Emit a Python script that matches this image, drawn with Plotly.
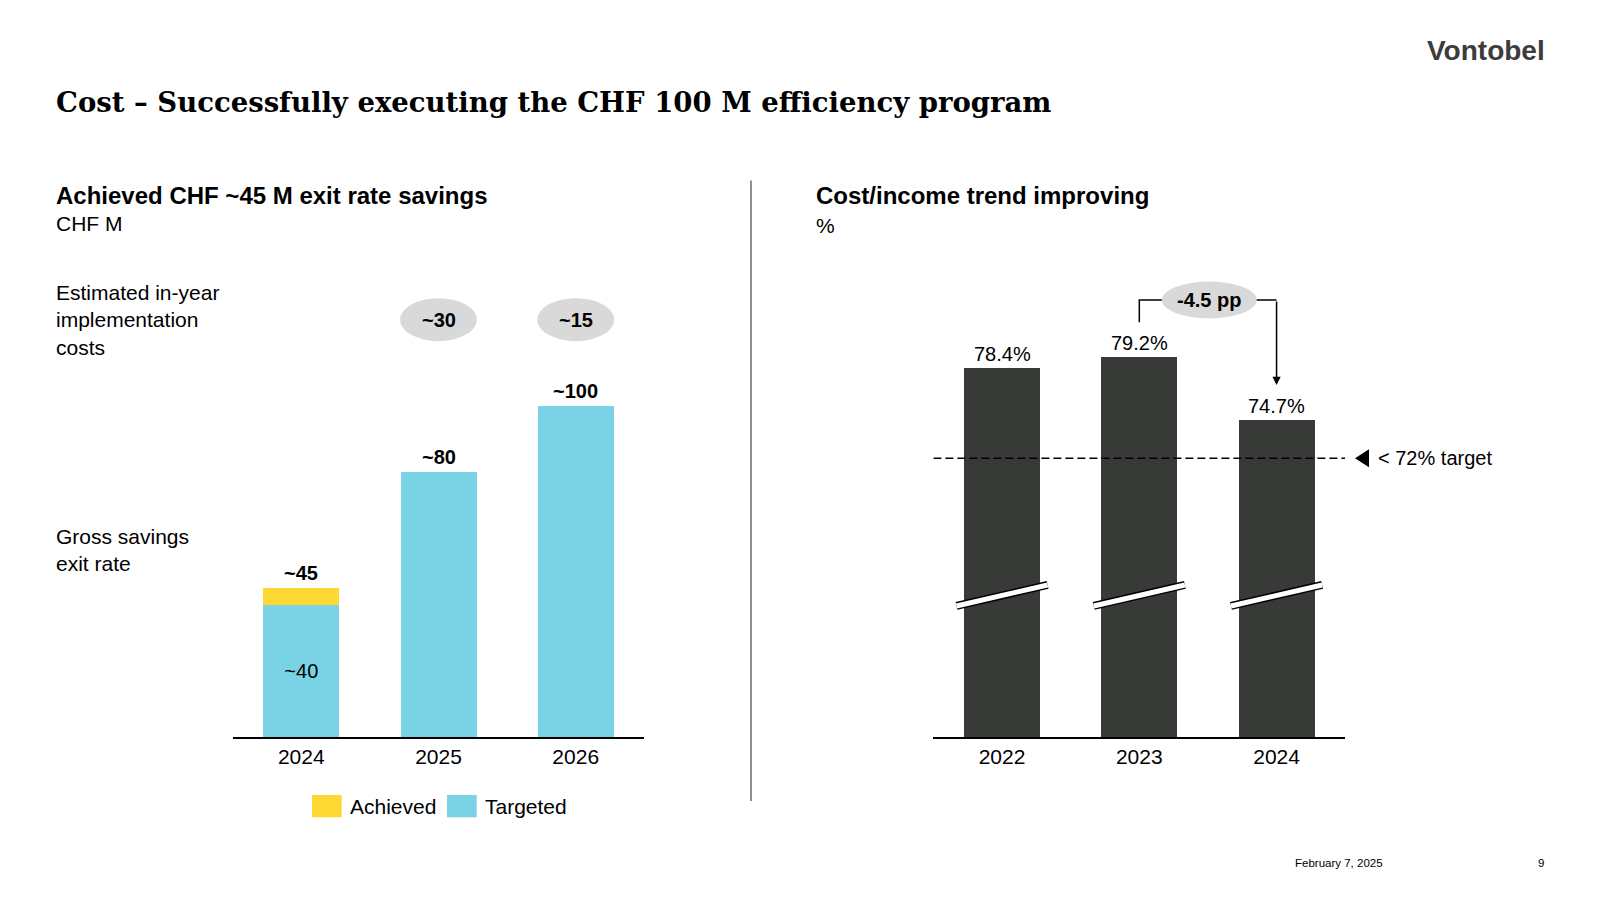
import plotly.graph_objects as go

# left panel - exit rate savings, CHF M
years_left = ["2024", "2025", "2026"]
targeted = [40, 80, 100]
achieved = [5, 0, 0]
total_labels = ["~45", "~80", "~100"]
inside_labels = ["~40", "", ""]
impl_costs = ["", "~30", "~15"]
series_names = ["Achieved", "Targeted"]

# right panel - cost/income ratio, %
years_right = ["2022", "2023", "2024"]
cost_income = [78.4, 79.2, 74.7]
target_ratio = 72
delta_label = "-4.5 pp"

CYAN = "#79D3E5"
YELLOW = "#FFD933"
DARK = "#383A37"
BUBBLE = "#D9D9D9"
SANS = "Arial, Liberation Sans, sans-serif"
W, H = 1600, 900


def px(x):
    return x / W


def py(y):
    return 1 - y / H


fig = go.Figure()

# stacked bars, targeted at the bottom, achieved on top
fig.add_trace(go.Bar(x=[0, 1, 2], y=targeted, width=0.554, marker=dict(color=CYAN, line=dict(width=0)),
                     text=inside_labels, textposition="inside", insidetextanchor="middle",
                     textfont=dict(family=SANS, size=20, color="black"), name=series_names[1],
                     xaxis="x", yaxis="y", showlegend=False))
fig.add_trace(go.Bar(x=[0, 1, 2], y=achieved, width=0.554, marker=dict(color=YELLOW, line=dict(width=0)),
                     name=series_names[0], xaxis="x", yaxis="y", showlegend=False))

fig.add_trace(go.Bar(x=[0, 1, 2], y=cost_income, width=0.554, marker=dict(color=DARK, line=dict(width=0)),
                     xaxis="x2", yaxis="y2", showlegend=False))

ax_common = dict(range=[-0.5, 2.5], tickvals=[0, 1, 2], showline=True, linecolor="black", linewidth=1.5,
                 ticks="", showgrid=False, zeroline=False, tickfont=dict(family=SANS, size=21, color="black"),
                 fixedrange=True)

fig.update_layout(
    width=W, height=H, margin=dict(l=0, r=0, t=0, b=0),
    paper_bgcolor="white", plot_bgcolor="white", barmode="stack",
    xaxis=dict(domain=[px(232.7), px(644.3)], ticktext=years_left, anchor="y", **ax_common),
    yaxis=dict(domain=[py(737), py(270)], range=[0, 141.1], visible=False, anchor="x"),
    xaxis2=dict(domain=[px(933.4), px(1345.2)], ticktext=years_right, anchor="y2", **ax_common),
    yaxis2=dict(domain=[py(737), py(270)], range=[52.19, 85.38], visible=False, anchor="x2"),
)

shapes = []
ann = []

# header
ann.append(dict(text="<b>Cost – Successfully executing the CHF 100 M efficiency program</b>",
                x=px(54), y=py(102), xref="paper", yref="paper", xanchor="left", yanchor="middle",
                showarrow=False, font=dict(family="DejaVu Serif, serif", size=27.5, color="black")))
ann.append(dict(text="<b>Vontobel</b>", x=px(1547), y=py(50), xref="paper", yref="paper",
                xanchor="right", yanchor="middle", showarrow=False,
                font=dict(family=SANS, size=28, color="#3c3c3c")))

# panel titles
ann.append(dict(text="<b>Achieved CHF ~45 M exit rate savings</b>", x=px(54), y=py(195), xref="paper", yref="paper",
                xanchor="left", yanchor="middle", showarrow=False, font=dict(family=SANS, size=24, color="black")))
ann.append(dict(text="CHF M", x=px(54), y=py(223), xref="paper", yref="paper",
                xanchor="left", yanchor="middle", showarrow=False, font=dict(family=SANS, size=21, color="black")))
ann.append(dict(text="<b>Cost/income trend improving</b>", x=px(814), y=py(195), xref="paper", yref="paper",
                xanchor="left", yanchor="middle", showarrow=False, font=dict(family=SANS, size=24, color="black")))
ann.append(dict(text="%", x=px(814), y=py(226), xref="paper", yref="paper",
                xanchor="left", yanchor="middle", showarrow=False, font=dict(family=SANS, size=21, color="black")))

# row labels left
ann.append(dict(text="Estimated in-year<br>implementation<br>costs", x=px(54), y=py(320), xref="paper", yref="paper",
                xanchor="left", yanchor="middle", align="left", showarrow=False,
                font=dict(family=SANS, size=21, color="black")))
ann.append(dict(text="Gross savings<br>exit rate", x=px(54), y=py(550), xref="paper", yref="paper",
                xanchor="left", yanchor="middle", align="left", showarrow=False,
                font=dict(family=SANS, size=21, color="black")))

# totals above left bars
for i, lab in enumerate(total_labels):
    ann.append(dict(text="<b>" + lab + "</b>", x=i, y=targeted[i] + achieved[i], xref="x", yref="y",
                    yshift=15, yanchor="middle", showarrow=False, font=dict(family=SANS, size=20, color="black")))

# implementation cost bubbles
for i, lab in enumerate(impl_costs):
    if not lab:
        continue
    shapes.append(dict(type="circle", xref="x", yref="y", x0=i - 0.28, x1=i + 0.28, y0=119.6, y1=132.6,
                       fillcolor=BUBBLE, line=dict(width=0)))
    ann.append(dict(text="<b>" + lab + "</b>", x=i, y=126.1, xref="x", yref="y", showarrow=False,
                    font=dict(family=SANS, size=20, color="black")))

# legend drawn by hand
leg = [(312, 341.7, YELLOW, 348, series_names[0]), (447, 476.7, CYAN, 483, series_names[1])]
for x0, x1, col, tx, name in leg:
    shapes.append(dict(type="rect", xref="paper", yref="paper", x0=px(x0), x1=px(x1), y0=py(817.3), y1=py(795),
                       fillcolor=col, line=dict(width=0)))
    ann.append(dict(text=name, x=px(tx), y=py(806.5), xref="paper", yref="paper", xanchor="left",
                    yanchor="middle", showarrow=False, font=dict(family=SANS, size=21, color="black")))

# divider
shapes.append(dict(type="line", xref="paper", yref="paper", x0=px(751), x1=px(751), y0=py(180.6), y1=py(801),
                   line=dict(color="#444444", width=1.2)))

# right value labels
for i, v in enumerate(cost_income):
    ann.append(dict(text=f"{v:.1f}%", x=i, y=v, xref="x2", yref="y2", yshift=14, yanchor="middle",
                    showarrow=False, font=dict(family=SANS, size=20, color="black")))

# axis break marks
for i in range(len(cost_income)):
    for col, wd in (("black", 8), ("white", 5)):
        shapes.append(dict(type="line", xref="x2", yref="y2", x0=i - 0.332, x1=i + 0.332,
                           y0=62.25 - 0.746, y1=62.25 + 0.746, line=dict(color=col, width=wd)))

# target line
shapes.append(dict(type="line", xref="x2", yref="y2", x0=-0.5, x1=2.5, y0=target_ratio, y1=target_ratio,
                   line=dict(color="black", width=1.3, dash="8px,4px")))
shapes.append(dict(type="path", xref="paper", yref="y2",
                   path=f"M {px(1355)},{target_ratio} L {px(1369)},{target_ratio + 0.64} "
                        f"L {px(1369)},{target_ratio - 0.64} Z",
                   fillcolor="black", line=dict(width=0)))
ann.append(dict(text=f"< {target_ratio}% target", x=px(1376), y=target_ratio, xref="paper", yref="y2",
                xanchor="left", yanchor="middle", showarrow=False, font=dict(family=SANS, size=20, color="black")))

# bracket 2023 -> 2024
shapes.append(dict(type="path", xref="x2", yref="y2", path="M 1,81.67 L 1,83.25 L 2,83.25",
                   line=dict(color="black", width=1.5)))
shapes.append(dict(type="circle", xref="x2", yref="y2", x0=1.51 - 0.346, x1=1.51 + 0.346,
                   y0=83.25 - 1.31, y1=83.25 + 1.31, fillcolor=BUBBLE, line=dict(width=0)))
ann.append(dict(text="<b>" + delta_label + "</b>", x=1.51, y=83.25, xref="x2", yref="y2", showarrow=False,
                font=dict(family=SANS, size=20, color="black")))
ann.append(dict(text="", x=2, y=77.21, ax=2, ay=83.25, xref="x2", yref="y2", axref="x2", ayref="y2",
                showarrow=True, arrowhead=2, arrowsize=1.1, arrowwidth=1.5, arrowcolor="black", standoff=0))

# footer
ann.append(dict(text="February 7, 2025", x=px(1339), y=py(863), xref="paper", yref="paper",
                xanchor="center", yanchor="middle", showarrow=False, font=dict(family=SANS, size=11.5, color="black")))
ann.append(dict(text="9", x=px(1546), y=py(863), xref="paper", yref="paper",
                xanchor="right", yanchor="middle", showarrow=False, font=dict(family=SANS, size=11.5, color="black")))

fig.update_layout(shapes=shapes, annotations=ann)

fig.write_html("out.html", config=dict(displayModeBar=False),
               post_script="document.body.style.margin='0';")
